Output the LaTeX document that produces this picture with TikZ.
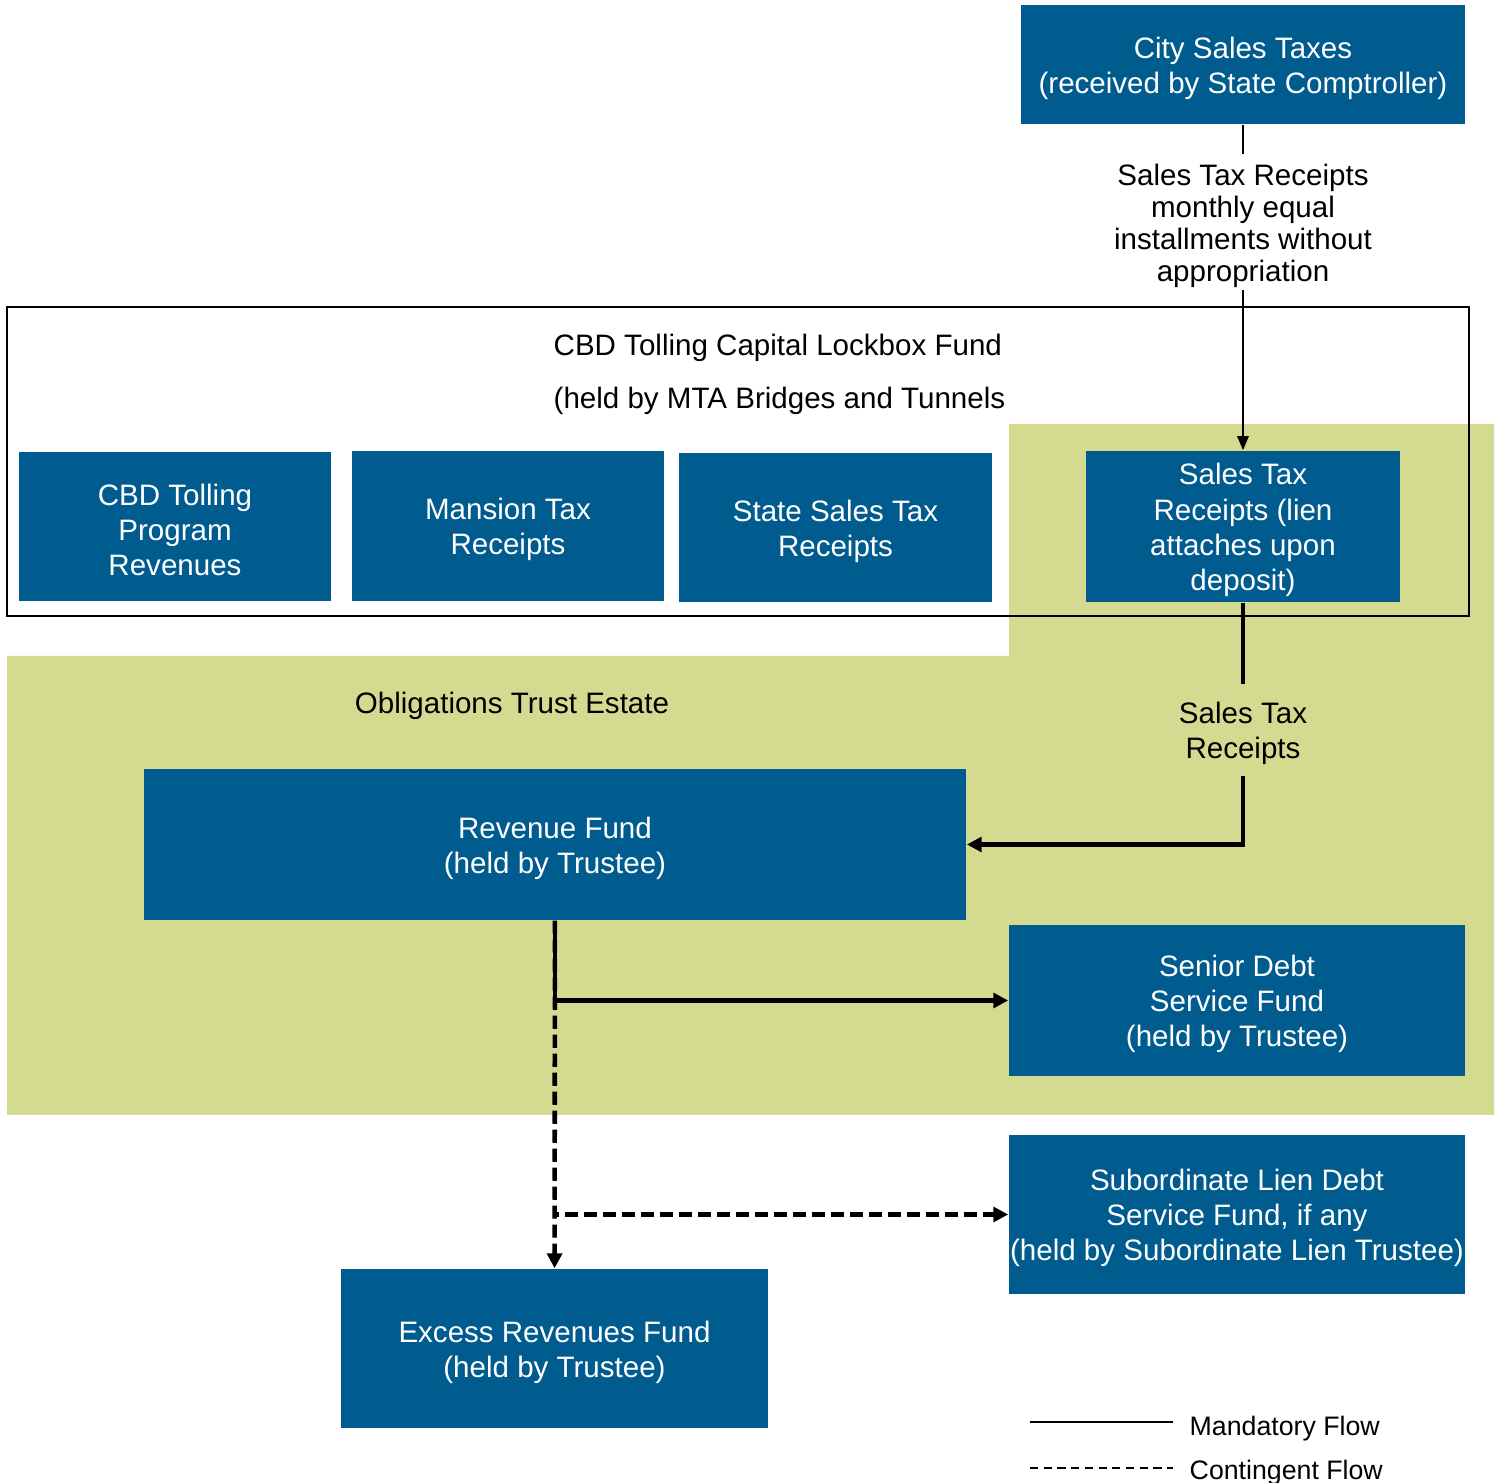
\documentclass[tikz,border=0pt]{standalone}
\usepackage{fontspec}
\setmainfont{Liberation Sans}
\usetikzlibrary{arrows.meta}
\definecolor{fundblue}{RGB}{0,91,143}
\definecolor{trustgreen}{RGB}{212,219,145}
\begin{document}
\begin{tikzpicture}[x=0.01cm,y=-0.01cm,font=\fontsize{8.4}{10}\selectfont]
\tikzstyle{box_style} = [fill=fundblue, text=white, align=center, inner sep=0pt]
\tikzstyle{label_style} = [align=center, inner sep=0pt]
\tikzstyle{one_line} = [text height=8.1pt]
\tikzstyle{two_lines} = [text height=18.1pt]
\tikzstyle{three_lines} = [text height=28.1pt]
\tikzstyle{four_lines} = [text height=38.1pt]
\tikzstyle{edge_thin} = [black, line width=0.6pt]
\tikzstyle{edge_thick} = [black, line width=1.3pt]
\tikzstyle{edge_dashed} = [black, line width=1.3pt, dash pattern=on 3.7pt off 1.7pt]
\tikzstyle{tip_thin} = [-{Triangle[length=4pt,width=3.2pt]}]
\tikzstyle{tip_thick} = [-{Triangle[length=4.2pt,width=4.2pt]}]
    \useasboundingbox (0,0) rectangle (1499,1483);

    % trust estate background
    \fill[trustgreen] (1009,424) -- (1494,424) -- (1494,1115) -- (7,1115)
        -- (7,656) -- (1009,656) -- cycle;

    \node[draw, line width=0.6pt, minimum width=14.62cm, minimum height=3.09cm] (lockbox) at (738,461.5) {};
    \node[one_line, anchor=west, inner sep=0pt] (t_lockbox1) at (553,344) {CBD Tolling Capital Lockbox Fund};
    \node[one_line, anchor=west, inner sep=0pt] (t_lockbox2) at (553,397) {(held by MTA Bridges and Tunnels};
    \node[one_line, inner sep=0pt] (t_trust) at (512,702) {Obligations Trust Estate};

    \node[box_style, two_lines, minimum width=4.44cm, minimum height=1.19cm] (city) at (1243,64.5) {City Sales Taxes\\(received by State Comptroller)};
    \node[box_style, three_lines, minimum width=3.12cm, minimum height=1.49cm] (cbd) at (175,526.5) {CBD Tolling\\Program\\Revenues};
    \node[box_style, two_lines, minimum width=3.12cm, minimum height=1.50cm] (mansion) at (508,526) {Mansion Tax\\Receipts};
    \node[box_style, two_lines, minimum width=3.13cm, minimum height=1.49cm] (state) at (835.5,527.5) {State Sales Tax\\Receipts};
    \node[box_style, four_lines, minimum width=3.13cm, minimum height=1.51cm] (lien) at (1243,526.5) {Sales Tax\\Receipts (lien\\attaches upon\\deposit)};
    \node[box_style, two_lines, minimum width=8.22cm, minimum height=1.51cm] (revenue) at (555,844.5) {Revenue Fund\\(held by Trustee)};
    \node[box_style, three_lines, minimum width=4.56cm, minimum height=1.51cm] (senior) at (1237,1000.5) {Senior Debt\\Service Fund\\(held by Trustee)};
    \node[box_style, three_lines, minimum width=4.56cm, minimum height=1.59cm] (subord) at (1237,1214.5) {Subordinate Lien Debt\\Service Fund, if any\\(held by Subordinate Lien Trustee)};
    \node[box_style, two_lines, minimum width=4.27cm, minimum height=1.59cm] (excess) at (554.5,1348.5) {Excess Revenues Fund\\(held by Trustee)};

    \node[label_style, text height=35.4pt, inner ysep=0.5pt, font=\fontsize{8.4}{9.1}\selectfont] (lbl_top) at (1243,222) {Sales Tax Receipts\\monthly equal\\installments without\\appropriation};
    \node[label_style, two_lines, inner ysep=3pt] (lbl_mid) at (1243,730) {Sales Tax\\Receipts};

    \draw[edge_thin] (city) -- (lbl_top);
    \draw[edge_thin, tip_thin] (lbl_top) -- (lien);
    \draw[edge_thick] (lien) -- (lbl_mid);
    \draw[edge_thick, tip_thick] (lbl_mid) |- (revenue);
    \draw[edge_thick, tip_thick] (revenue) |- (senior);
    \draw[edge_dashed, tip_thick] (revenue) -- (excess);
    \draw[edge_dashed, tip_thick] (revenue) |- (subord);

    % legend
    \coordinate (lg1a) at (1030,1422);
    \coordinate (lg1b) at (1173,1422);
    \coordinate (lg2a) at (1030,1468);
    \coordinate (lg2b) at (1173,1468);
    \draw[edge_thin] (lg1a) -- (lg1b);
    \draw[edge_thin, dash pattern=on 2.3pt off 1.6pt] (lg2a) -- (lg2b);
    \node[one_line, anchor=west, inner sep=0pt, font=\fontsize{7.6}{9}\selectfont] (lg1) at (1189,1424) {Mandatory Flow};
    \node[one_line, anchor=west, inner sep=0pt, font=\fontsize{7.6}{9}\selectfont] (lg2) at (1189,1468) {Contingent Flow};
\end{tikzpicture}
\end{document}
